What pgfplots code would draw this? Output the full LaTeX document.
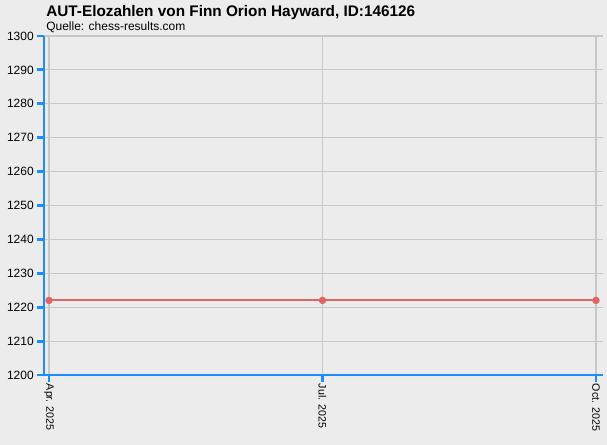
\documentclass[border=0pt]{standalone}
\usepackage{fontspec}
\setmainfont{Liberation Sans}
\usepackage{pgfplots}
\pgfplotsset{compat=1.18}
\definecolor{bg}{HTML}{ECECEC}
\definecolor{axblue}{HTML}{1E8CFF}
\definecolor{elored}{HTML}{E06666}
\definecolor{gridgray}{HTML}{C8C8C8}
\begin{document}
\begin{tikzpicture}[x=0.75pt,y=0.75pt]
  % background, 607 x 445 px
  \fill[bg] (0,0) rectangle (607,445);
  \node[anchor=base west,font=\bfseries\fontsize{11.5}{13}\selectfont,inner sep=0pt] at (46,428) {AUT-Elozahlen von Finn Orion Hayward, ID:146126};
  \node[anchor=base west,font=\fontsize{9}{10}\selectfont,inner sep=0pt] at (46,414) {Quelle: chess-results.com};
  \begin{axis}[
      at={(44pt*0.75,70pt*0.75)}, anchor=south west,
      scale only axis,
      width=559*0.75pt, height=339*0.75pt,
      xmin=-0.055, xmax=6.077,
      ymin=1200, ymax=1300,
      ytick={1200,1210,...,1300},
      xtick={0,3,6},
      xticklabels={Apr. 2025,Jul. 2025,Oct. 2025},
      x tick label style={rotate=-90,anchor=west,font=\fontsize{8}{9}\selectfont,inner sep=1.5pt},
      y tick label style={font=\fontsize{9}{10}\selectfont,inner sep=2.5pt},
      /pgf/number format/assume math mode=true,
      /pgf/number format/set thousands separator={},
      grid=major,
      major grid style={gridgray,line width=0.8pt},
      axis line style={draw=none},
      axis x line*=bottom, axis y line*=left,
      tick align=outside,
      major tick length=5pt,
      tick style={axblue,line width=2.2pt},
      clip=false,
    ]
    \addplot[elored,line width=1.5pt,mark=*,mark size=2pt,mark options={fill=elored,draw=elored}] coordinates {
      (0,1222) (3,1222) (6,1222)
    };
    \draw[axblue,line width=2.2pt] (rel axis cs:0,1) -- (rel axis cs:0,0) -- (rel axis cs:1,0);
  \end{axis}
\end{tikzpicture}
\end{document}
